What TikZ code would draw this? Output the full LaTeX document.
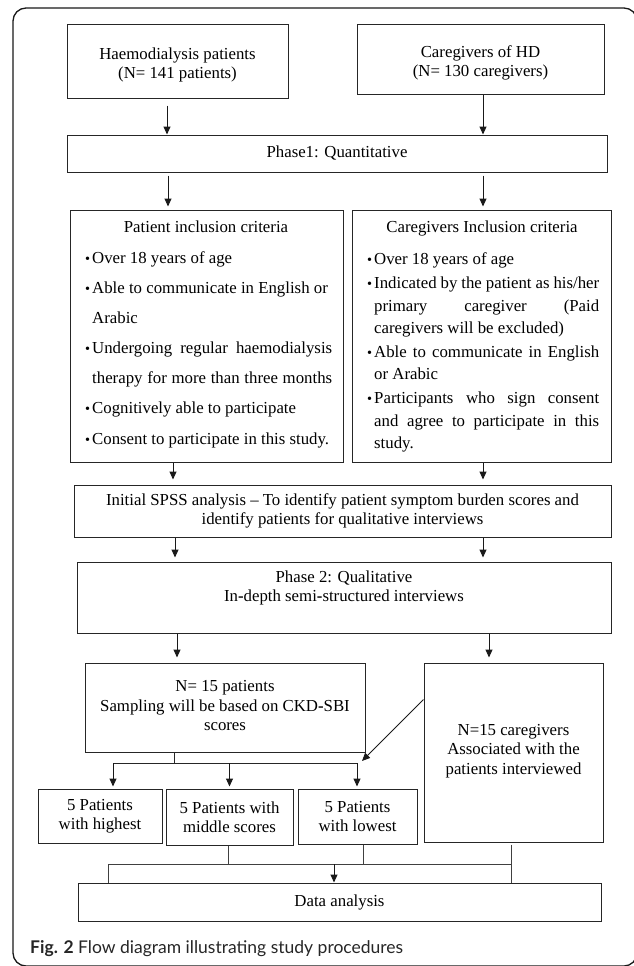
\documentclass[tikz,border=0pt]{standalone}
\usepackage{fontspec}
\setmainfont{Liberation Serif}
\newfontfamily\capfont{Lato}
\usetikzlibrary{arrows.meta}
\newcommand{\jl}[2]{\makebox[#1][s]{#2}}
\newcommand{\bul}{\llap{\scalebox{0.85}{\textbullet}\hspace{2pt}}}
\begin{document}
\begin{tikzpicture}[x=1pt,y=-1pt,
  box/.style={draw=black!85, line width=1pt, inner sep=0pt},
  txt/.style={font=\fontsize{16.8}{19.5}\selectfont, align=center, inner sep=0pt},
  ln/.style={font=\fontsize{16.8}{19.5}\selectfont, anchor=base west, inner sep=0pt},
  arr/.style={line width=1pt, draw=black!90, -{Triangle[length=8pt,width=7pt]}},
  con/.style={line width=0.8pt, draw=black!75},
]
\useasboundingbox (0,0) rectangle (634,966);
\draw[line width=1.3pt, black!90, rounded corners=13pt] (13,8) rectangle (637,966);

% boxes
\node[box, minimum width=221pt, minimum height=73pt] (hp) at (177.5,61.5) {};
\node[txt] (hpt) at (177.5,65) {Haemodialysis patients\\(N= 141 patients)};
\node[box, minimum width=247pt, minimum height=69pt] (cg) at (480.5,59.5) {};
\node[txt] (cgt) at (480.5,63) {Caregivers of HD\\(N= 130 caregivers)};
\node[box, txt, minimum width=540pt, minimum height=37pt] (ph1) at (337,153.5) {Phase1: Quantitative};
\node[box, minimum width=273pt, minimum height=252pt] (pc) at (206.5,336) {};
\node[box, minimum width=259pt, minimum height=252pt] (cc) at (481.5,336) {};
\node[box, txt, minimum width=537pt, minimum height=52pt] (spss) at (342.5,511) {Initial SPSS analysis -- To identify patient symptom burden scores and\\identify patients for qualitative interviews};
\node[box, minimum width=534pt, minimum height=71pt] (ph2) at (344,597.5) {};
\node[txt] (ph2t) at (344,588) {Phase 2: Qualitative\\In\textbf{-}depth semi\textbf{-}structured interviews};
\node[box, minimum width=280pt, minimum height=89pt] (np) at (225,707.5) {};
\node[txt] (npt) at (225,706) {N= 15 patients\\Sampling will be based on CKD\textbf{-}SBI\\scores};
\node[box, minimum width=179pt, minimum height=179pt] (nc) at (513.5,752.5) {};
\node[txt] (nct) at (513.5,751) {N=15 caregivers\\Associated with the\\patients interviewed};
\node[box, txt, minimum width=124pt, minimum height=54pt] (b1) at (100,816) {5 Patients\\with highest};
\node[box, txt, minimum width=127pt, minimum height=56pt] (b2) at (229.5,817) {5 Patients with\\middle scores};
\node[box, txt, minimum width=119pt, minimum height=55pt] (b3) at (357.5,816.5) {5 Patients\\with lowest};
\node[box, txt, minimum width=523pt, minimum height=38pt] (da) at (339.5,902) {Data analysis};

% patient criteria text
\node[txt, anchor=base] (pct) at (206,232) {Patient inclusion criteria};
\node[ln] (p1) at (92,263) {\bul Over 18 years of age};
\node[ln] (p2) at (92,293) {\bul Able to communicate in English or};
\node[ln] (p3) at (92,323) {Arabic};
\node[ln] (p4) at (92,353) {\bul\jl{240pt}{Undergoing regular haemodialysis}};
\node[ln] (p5) at (92,383) {\jl{240pt}{therapy for more than three months}};
\node[ln] (p6) at (92,413) {\bul Cognitively able to participate};
\node[ln] (p7) at (92,444) {\bul Consent to participate in this study.};

% caregiver criteria text
\node[txt, anchor=base] (cct) at (482,232) {Caregivers Inclusion criteria};
\node[ln] (c1) at (374,264) {\bul Over 18 years of age};
\node[ln] (c2) at (374,288) {\bul\jl{225pt}{Indicated by the patient as his/her}};
\node[ln] (c3) at (374,311) {\jl{225pt}{primary caregiver (Paid}};
\node[ln] (c4) at (374,333) {caregivers will be excluded)};
\node[ln] (c5) at (374,357) {\bul\jl{225pt}{Able to communicate in English}};
\node[ln] (c6) at (374,379) {or Arabic};
\node[ln] (c7) at (374,403) {\bul\jl{225pt}{Participants who sign consent}};
\node[ln] (c8) at (374,426) {\jl{225pt}{and agree to participate in this}};
\node[ln] (c9) at (374,448) {study.};

% arrows top
\draw[arr, shorten <=7pt] ([xshift=-10.5pt]hp.south) -- ([xshift=-10.5pt]hp.south |- ph1.north);
\draw[arr] ([xshift=2.5pt]cg.south) -- ([xshift=2.5pt]cg.south |- ph1.north);
\draw[arr, shorten <=3pt, shorten >=3pt] ([xshift=-169pt]ph1.south) -- ([xshift=-169pt]ph1.south |- pc.north);
\draw[arr, shorten <=3pt, shorten >=3pt] ([xshift=146pt]ph1.south) -- ([xshift=146pt]ph1.south |- cc.north);
\draw[arr, shorten >=5pt] ([xshift=-33.5pt]pc.south) -- ([xshift=-33.5pt]pc.south |- spss.north);
\draw[arr, shorten >=5pt] ([xshift=1.5pt]cc.south) -- ([xshift=1.5pt]cc.south |- spss.north);
\draw[arr, shorten >=4pt] ([xshift=-167.5pt]spss.south) -- ([xshift=-167.5pt]spss.south |- ph2.north);
\draw[arr, shorten >=4pt] ([xshift=140.5pt]spss.south) -- ([xshift=140.5pt]spss.south |- ph2.north);
\draw[arr, shorten >=5pt] ([xshift=-167pt]ph2.south) -- ([xshift=-167pt]ph2.south |- np.north);
\draw[arr, shorten >=5pt] ([xshift=145pt]ph2.south) -- ([xshift=145pt]ph2.south |- nc.north);

% sampling bus
\coordinate (tbL) at (113,763);
\coordinate (tbR) at (357,763);
\coordinate (dg) at (362,761);
\draw[line width=0.9pt, black!85] ([xshift=-51pt]np.south) -- ([xshift=-51pt]np.south |- tbL);
\draw[line width=0.9pt, black!85] (tbL) -- (tbR);
\draw[arr, shorten >=2pt] (tbL) -- (tbL |- b1.north);
\draw[arr, shorten >=2pt] (b2.north |- tbL) -- (b2.north);
\draw[arr, shorten >=2pt] (tbR) -- (tbR |- b3.north);
\draw[arr] ([yshift=-37pt]nc.north west) -- (dg);

% analysis bus
\coordinate (busL) at (108,864);
\coordinate (busR) at (511,864);
\draw[con] ([xshift=-1.5pt]b2.south) -- ([xshift=-1.5pt]b2.south |- busL);
\draw[con] ([xshift=5.5pt]b3.south) -- ([xshift=5.5pt]b3.south |- busL);
\draw[con, shorten <=2pt] ([xshift=-2.5pt]nc.south) -- ([xshift=-2.5pt]nc.south |- busL);
\draw[con] (busL) -- (busR);
\draw[con] (busL) -- (busL |- da.north);
\draw[con] (busR) -- (busR |- da.north);
\draw[arr] ([xshift=-5.5pt]da.north |- busL) -- ([xshift=-5.5pt]da.north);

% caption
\node[anchor=base west, inner sep=0pt, text=black!85, font=\capfont\fontsize{17.5}{20}\selectfont] (cap) at (30,953) {\textbf{Fig. 2} Flow diagram illustrating study procedures};
\end{tikzpicture}
\end{document}
